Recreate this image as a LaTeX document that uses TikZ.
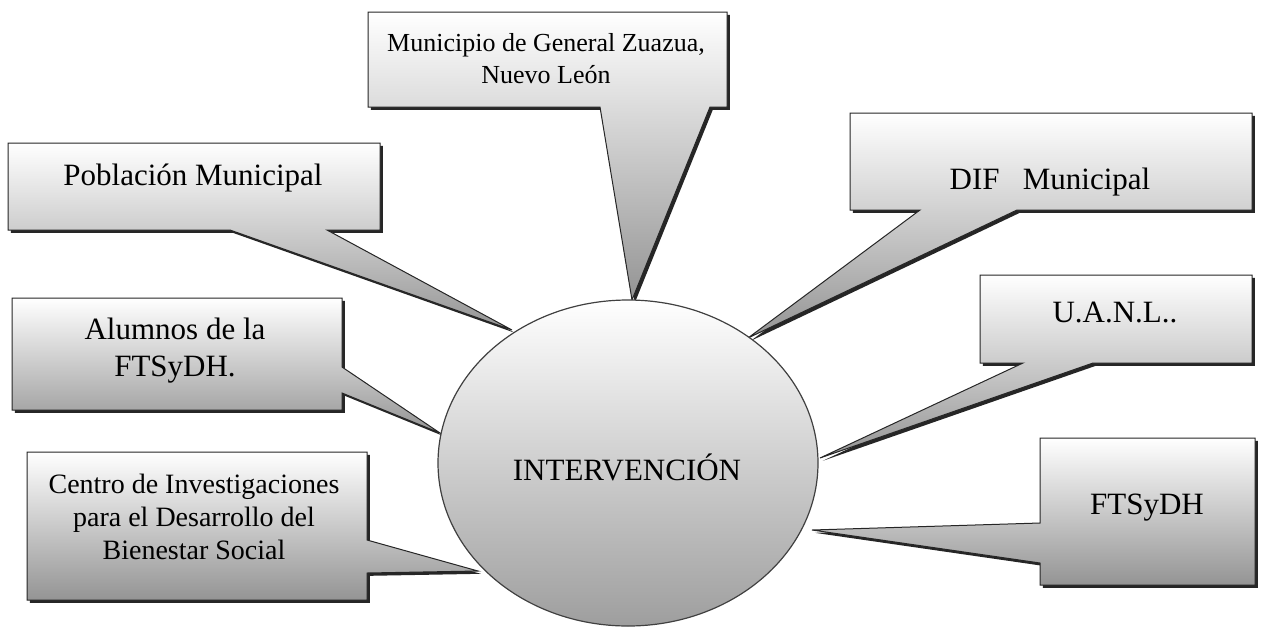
\documentclass[tikz,border=0pt]{standalone}
\usepackage{fontspec}
\setmainfont{Liberation Serif}
\usetikzlibrary{shadows,shapes.geometric}

\tikzset{
    bubble/.style={draw=black!85, line width=0.5pt, top color=white, bottom color=black!42,
        drop shadow={shadow xshift=1.4pt, shadow yshift=-1.4pt, fill=black, opacity=0.85}},
    txt/.style={align=center, inner sep=0pt, font=\fontsize{15.5}{18.5}\selectfont},
    core/.style={ellipse, draw=black!75, line width=0.6pt, top color=white, bottom color=black!38,
        minimum width=190pt, minimum height=163pt, inner sep=0pt}
}

\begin{document}
\begin{tikzpicture}[x=0.5pt, y=-0.5pt]
    \useasboundingbox (0,0) rectangle (1264,628);

    \coordinate (tipMun) at (632,300);
    \coordinate (tipPob) at (512,330);
    \coordinate (tipAlu) at (440,433);
    \coordinate (tipCen) at (478,571);
    \coordinate (tipDif) at (748,338);
    \coordinate (tipUan) at (820,458);
    \coordinate (tipFts) at (812,530);

    \draw[bubble] (368,12) -- (727,12) -- (727,107) -- (710,107) -- (tipMun) -- (600,107) -- (368,107) -- cycle;
    \draw[bubble] (8,143) -- (380,143) -- (380,230) -- (327,230) -- (tipPob) -- (230,230) -- (8,230) -- cycle;
    \draw[bubble] (12,298) -- (342,298) -- (342,367) -- (tipAlu) -- (342,393) -- (342,410) -- (12,410) -- cycle;
    \draw[bubble] (27,452) -- (367,452) -- (367,540) -- (tipCen) -- (367,573) -- (367,600) -- (27,600) -- cycle;
    \draw[bubble] (850,113) -- (1252,113) -- (1252,210) -- (1017,210) -- (tipDif) -- (920,210) -- (850,210) -- cycle;
    \draw[bubble] (980,275) -- (1252,275) -- (1252,363) -- (1093,363) -- (tipUan) -- (1023,363) -- (980,363) -- cycle;
    \draw[bubble] (1040,438) -- (1255,438) -- (1255,585) -- (1040,585) -- (1040,563) -- (tipFts) -- (1040,523) -- cycle;

    \node[txt, font=\fontsize{13}{16}\selectfont] (mun) at (546,59) {Municipio de General Zuazua,\\Nuevo León};
    \node[txt] (pob) at (193,178) {Población Municipal};
    \node[txt] (alu) at (175,351) {Alumnos de la\\FTSyDH.};
    \node[txt, font=\fontsize{14}{16.5}\selectfont] (cen) at (194,517) {Centro de Investigaciones\\para el Desarrollo del\\Bienestar Social};
    \node[txt] (dif) at (1050,182) {DIF\ \ \ Municipal};
    \node[txt] (uan) at (1115,312) {U.A.N.L..};
    \node[txt] (fts) at (1147,508) {FTSyDH};

    \node[core] (interv) at (628,463) {};
    \node[txt] (intervtxt) at (627,467) {INTERVENCIÓN};
\end{tikzpicture}
\end{document}
